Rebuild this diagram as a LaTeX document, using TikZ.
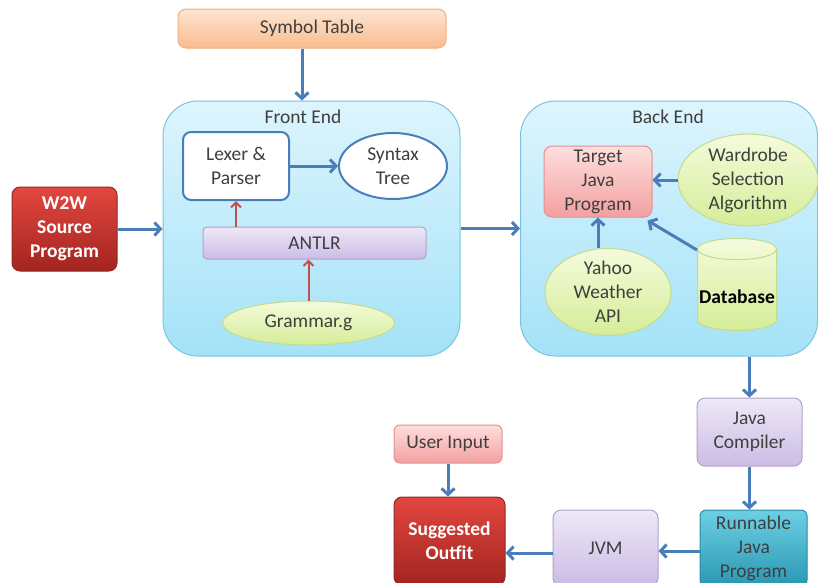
\documentclass[tikz,border=0pt]{standalone}
\usepackage{fontspec}
\setmainfont{Carlito}
\usetikzlibrary{arrows.meta,positioning,shapes.geometric}
\definecolor{txtgray}{HTML}{3F3F3F}
\definecolor{arrblue}{HTML}{4A7EBB}
\definecolor{arrred}{HTML}{C0504D}
\definecolor{stagetop}{HTML}{DDF5FD}
\definecolor{stagebot}{HTML}{A4E2F8}
\definecolor{stageline}{HTML}{7EC2DE}
\definecolor{lavtop}{HTML}{EEE8F7}
\definecolor{lavbot}{HTML}{CBBCE5}
\definecolor{lavline}{HTML}{B3A2C7}
\definecolor{pinktop}{HTML}{FFDEDE}
\definecolor{pinkbot}{HTML}{F2A0A0}
\definecolor{pinkline}{HTML}{E39090}
\definecolor{redtop}{HTML}{E2473F}
\definecolor{redbot}{HTML}{A32420}
\definecolor{redline}{HTML}{8E2A26}
\definecolor{tealtop}{HTML}{6CD0E4}
\definecolor{tealbot}{HTML}{2A97B3}
\definecolor{tealline}{HTML}{2B8AA6}
\definecolor{greentop}{HTML}{F4FBDB}
\definecolor{greenbot}{HTML}{D5ED98}
\definecolor{greenline}{HTML}{C2DB8C}
\definecolor{orangetop}{HTML}{FDE5D2}
\definecolor{orangebot}{HTML}{F9BC8E}
\definecolor{orangeline}{HTML}{F2AE7E}
\tikzstyle{boxstyle}=[rectangle,rounded corners=8pt,align=center,text=txtgray,line width=1pt,font=\fontsize{19.5}{24}\selectfont]
\tikzstyle{ellstyle}=[ellipse,align=center,text=txtgray,line width=1pt,inner sep=0pt,font=\fontsize{19.5}{24}\selectfont]
\tikzstyle{flow}=[-{Straight Barb[length=6pt,width=13pt]},draw=arrblue,line width=3pt]
\tikzstyle{feed}=[-{Straight Barb[length=5pt,width=10pt]},draw=arrred,line width=2pt]

\begin{document}
\begin{tikzpicture}[x=1pt,y=-1pt,on grid]
	\tikzstyle{orange box}=[boxstyle,draw=orangeline,top color=orangetop,bottom color=orangebot]
	\tikzstyle{stage}=[boxstyle,rounded corners=35pt,draw=stageline,top color=stagetop,bottom color=stagebot]
	\tikzstyle{plain box}=[boxstyle,draw=arrblue,line width=2pt,fill=white]
	\tikzstyle{purple box}=[boxstyle,draw=lavline,top color=lavtop,bottom color=lavbot]
	\tikzstyle{pink box}=[boxstyle,draw=pinkline,top color=pinktop,bottom color=pinkbot]
	\tikzstyle{red box}=[boxstyle,draw=redline,top color=redtop,bottom color=redbot,text=white,font=\fontsize{19.5}{24}\selectfont\bfseries]
	\tikzstyle{teal box}=[boxstyle,rounded corners=6pt,draw=tealline,top color=tealtop,bottom color=tealbot]
	\tikzstyle{green ell}=[ellstyle,draw=greenline,top color=greentop,bottom color=greenbot]

	\useasboundingbox (0,0) rectangle (818,582);
	\clip (0,0) rectangle (818,582);

	% front end
	\node[orange box,minimum width=268pt,minimum height=39pt] (symtab) at (312,28.5) {Symbol Table};
	\node[stage,minimum width=297pt,minimum height=255pt] (front) at (311.5,228.5) {};
	\node[boxstyle] (frontlbl) at (303,117) {Front End};
	\node[plain box,minimum width=106pt,minimum height=68pt] (lexer) at (236,166) {Lexer \&\\Parser};
	\node[ellstyle,draw=arrblue,line width=2pt,fill=white,minimum width=108pt,minimum height=66pt] (syntax) [right=157pt of lexer] {Syntax\\Tree};
	\node[purple box,rounded corners=4pt,minimum width=223pt,minimum height=32pt] (antlr) at (314.5,243) {ANTLR};
	\node[green ell,minimum width=172pt,minimum height=44pt] (grammar) [below=80pt of antlr,xshift=-6pt] {Grammar.g};
	\node[red box,minimum width=105pt,minimum height=84pt] (w2w) at (64.5,229) {W2W\\Source\\Program};

	% back end
	\node[stage,minimum width=297pt,minimum height=255pt] (back) at (669,228.5) {};
	\node[boxstyle] (backlbl) at (668,117) {Back End};
	\node[pink box,minimum width=108pt,minimum height=71pt] (target) at (598,181.5) {Target\\Java\\Program};
	\node[green ell,minimum width=140pt,minimum height=90pt] (wardrobe) at (748,180) {Wardrobe\\Selection\\Algorithm};
	\node[green ell,minimum width=126pt,minimum height=76pt] (yahoo) at (608,292) {Yahoo\\Weather\\API};
	\node[green ell,cylinder,shape border rotate=90,aspect=0.28,minimum height=92pt,minimum width=79pt,text=black] (db) at (737,290) {\raisebox{-13pt}[0pt][0pt]{\bfseries Database}};

	% run chain
	\node[purple box,minimum width=105pt,minimum height=68pt] (compiler) at (749.5,432) {Java\\Compiler};
	\node[teal box,minimum width=107pt,minimum height=76pt] (runnable) at (753.5,548) {Runnable\\Java\\Program};
	\node[purple box,minimum width=105pt,minimum height=76pt] (jvm) [left=148pt of runnable] {JVM};
	\node[red box,minimum width=111pt,minimum height=88pt] (outfit) at (449.5,541) {Suggested\\Outfit};
	\node[pink box,rounded corners=6pt,minimum width=108pt,minimum height=38pt] (userin) at (448,444) {User Input};

	\draw[flow] ([xshift=-10pt]symtab.south) -- ([xshift=-9.5pt]front.north);
	\draw[flow] (w2w.east) -- (w2w.east -| front.west);
	\draw[flow] (lexer.east) -- (lexer.east -| syntax.west);
	\draw[feed] (antlr.north -| lexer) -- (lexer.south);
	\draw[feed] (grammar.north) -- (grammar.north |- antlr.south);
	\draw[flow] (front.east) -- (back.west);
	\draw[flow] (wardrobe.west) -- (wardrobe.west -| target.east);
	\draw[flow] (target.south |- yahoo.north) -- (target.south);
	\draw[flow] (db.135) -- ([shift={(-5pt,-3pt)}]target.south east);
	\draw[flow] (back.south -| compiler) -- (compiler.north);
	\draw[flow] (compiler.south) -- (compiler.south |- runnable.north);
	\draw[flow] ([yshift=-3pt]runnable.west) -- ([yshift=-3pt]jvm.east);
	\draw[flow] ([yshift=-5pt]jvm.west) -- ([yshift=-5pt]jvm.west -| outfit.east);
	\draw[flow] (userin.south) -- (userin.south |- outfit.north);
\end{tikzpicture}
\end{document}
